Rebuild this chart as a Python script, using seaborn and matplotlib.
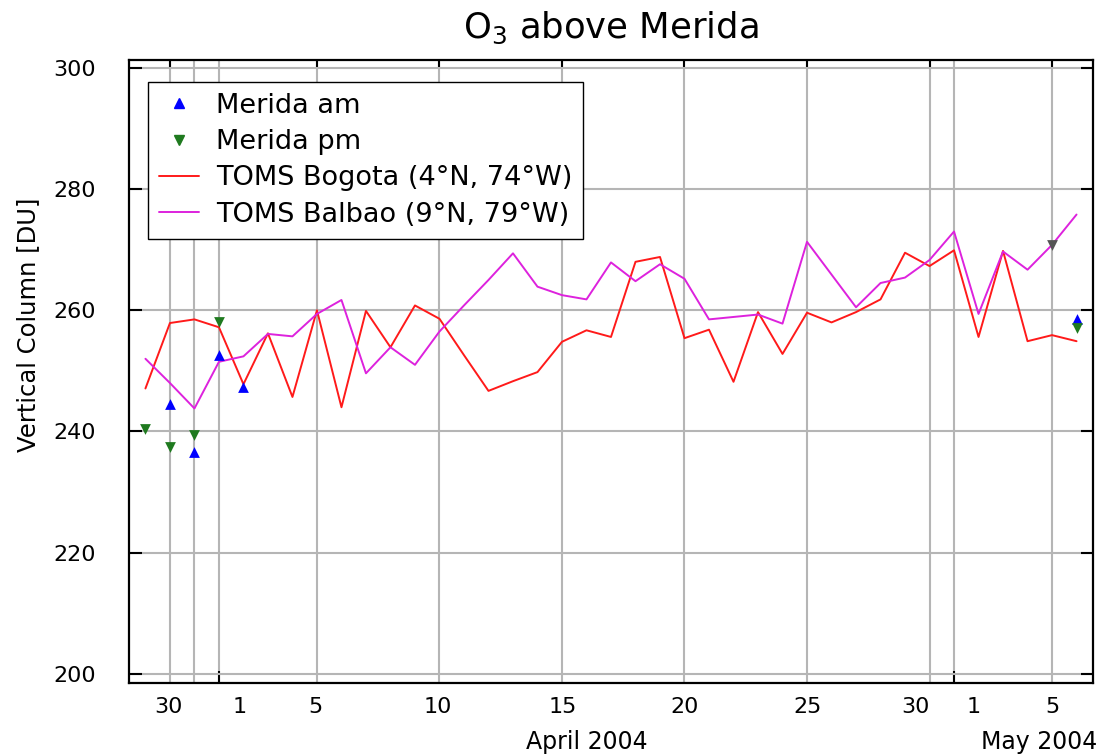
import numpy as np
import pandas as pd
import matplotlib
matplotlib.use("Agg")
import matplotlib.pyplot as plt
import matplotlib.transforms as mtransforms
from matplotlib.lines import Line2D
import seaborn as sns

# ---------------- data ----------------
toms_dates = pd.date_range("2004-03-29", "2004-05-06", freq="D")
bogota = [247.1, 257.9, 258.5, 257.2, 247.8, 256.2, 245.7, 260.0, 244.0, 259.9,
          253.9, 260.8, 258.6, 252.6, 246.7, 248.3, 249.8, 254.8, 256.7, 255.6,
          268.0, 268.8, 255.4, 256.8, 248.2, 259.7, 252.8, 259.6, 258.0, 259.7,
          261.8, 269.5, 267.3, 269.9, 255.6, 269.8, 254.9, 255.9, 254.9]
balbao = [252.0, 248.0, 243.8, 251.5, 252.4, 256.1, 255.7, 259.4, 261.7, 249.6,
          253.9, 251.0, 256.5, 260.8, 265.0, 269.4, 263.9, 262.5, 261.8, 267.9,
          264.8, 267.6, 265.2, 258.5, 258.9, 259.3, 257.8, 271.3, 265.9, 260.5,
          264.5, 265.4, 268.3, 273.0, 259.4, 269.7, 266.7, 270.8, 275.8]

am_dates = ["2004-03-30", "2004-03-31", "2004-04-01", "2004-04-02", "2004-05-06"]
am_vals = [244.5, 236.6, 252.6, 247.3, 258.5]
pm_dates = ["2004-03-29", "2004-03-30", "2004-03-31", "2004-04-01", "2004-05-06"]
pm_vals = [240.4, 237.5, 239.5, 258.1, 257.0]
extra_dates = ["2004-05-05"]
extra_vals = [270.8]

series_names = ["TOMS Bogota (4°N, 74°W)", "TOMS Balbao (9°N, 79°W)"]
legend_labels = ["Merida am", "Merida pm"] + series_names

grid_dates = ["2004-03-30", "2004-03-31", "2004-04-01", "2004-04-05", "2004-04-10",
              "2004-04-15", "2004-04-20", "2004-04-25", "2004-04-30", "2004-05-01",
              "2004-05-05"]
grid_labels = ["30", "", "1", "5", "10", "15", "20", "25", "30", "1", "5"]
label_shift_px = [-2, 0, 21, -2, -2, 1, 0, 1, -14, 20, 0]
month_starts = ["2004-04-01", "2004-05-01"]
month_labels = ["April 2004", "May 2004"]
y_ticks = [200, 220, 240, 260, 280, 300]

ref = pd.Timestamp("2004-04-01")


def to_day(d):
    return np.asarray((pd.to_datetime(d) - ref).days, dtype=float)


# ---------------- style ----------------
sns.set_style("white")
plt.rcParams["font.family"] = ["DejaVu Sans"]
plt.rcParams["mathtext.fontset"] = "dejavusans"
plt.rcParams["text.color"] = "black"
plt.rcParams["axes.labelcolor"] = "black"
plt.rcParams["xtick.color"] = "black"
plt.rcParams["ytick.color"] = "black"

RED = "#ff1a1a"
MAG = "#dd22dd"
BLUE = "#0000ff"
GREEN = "#1f7a1f"
GRAY = "#555555"

fig = plt.figure(figsize=(10.99, 7.56), dpi=100)
ax = fig.add_axes([0.1174, 0.0966, 0.8771, 0.8240])

tdays = to_day(toms_dates)
df = pd.DataFrame({
    "day": np.concatenate([tdays, tdays]),
    "value": bogota + balbao,
    "series": [series_names[0]] * len(bogota) + [series_names[1]] * len(balbao),
})
sns.lineplot(data=df, x="day", y="value", hue="series",
             palette={series_names[0]: RED, series_names[1]: MAG},
             linewidth=1.4, legend=False, sort=False, ax=ax, zorder=3)

sns.scatterplot(x=to_day(am_dates), y=am_vals, marker="^", color=BLUE, s=60,
                linewidth=0, ax=ax, zorder=4)
sns.scatterplot(x=to_day(pm_dates), y=pm_vals, marker="v", color=GREEN, s=60,
                linewidth=0, ax=ax, zorder=4)
sns.scatterplot(x=to_day(extra_dates), y=extra_vals, marker="v", color=GRAY, s=60,
                linewidth=0, ax=ax, zorder=4)

# ---------------- axes ----------------
ax.set_xlim(-3.67, 35.67)
ax.set_ylim(198.5, 301.3)
ax.set_xlabel("")
ax.set_ylabel("Vertical Column [DU]", fontsize=17.5, color="black")
ax.yaxis.set_label_coords(-0.092, 0.575)

ax.set_yticks(y_ticks)
ax.tick_params(axis="y", direction="in", length=9, width=1.5, left=True,
               right=True, labelsize=16, pad=24, color="black",
               labelcolor="black")

ax.set_xticks(to_day(grid_dates))
ax.set_xticklabels(grid_labels)
ax.tick_params(axis="x", which="major", direction="in", length=0, width=1.5,
               bottom=True, top=True, labelsize=16, pad=10, color="black",
               labelcolor="black")

for tick, d, dx in zip(ax.xaxis.get_major_ticks(), grid_dates, label_shift_px):
    ts = pd.Timestamp(d)
    if d in month_starts:
        tick.tick1line.set_markersize(9)
    if ts.day % 5 == 0:
        tick.tick2line.set_markersize(5)
    tick.label1.set_transform(tick.label1.get_transform() +
                              mtransforms.ScaledTranslation(dx / 100, 0, fig.dpi_scale_trans))

ax.grid(True, which="major", color="#b5b5b5", linewidth=1.5)
ax.set_axisbelow(True)

for sp in ax.spines.values():
    sp.set_color("black")
    sp.set_linewidth(1.6)
    sp.set_visible(True)

# month labels
ax.text(to_day("2004-04-16"), -0.095, month_labels[0], fontsize=17,
        ha="center", va="center", color="black",
        transform=mtransforms.blended_transform_factory(ax.transData, ax.transAxes))
ax.text(1.004, -0.095, month_labels[1], fontsize=17, ha="right", va="center",
        color="black", transform=ax.transAxes)

ax.set_title("O$_3$ above Merida", fontsize=25.5, pad=16, color="black")

handles = [
    Line2D([], [], ls="none", marker="^", color=BLUE, markersize=7),
    Line2D([], [], ls="none", marker="v", color=GREEN, markersize=7),
    Line2D([], [], color=RED, lw=1.4),
    Line2D([], [], color=MAG, lw=1.4),
]
leg = ax.legend(handles, legend_labels, loc="upper left",
                bbox_to_anchor=(0.0197, 0.9647), borderaxespad=0,
                fontsize=19.5, frameon=True, fancybox=False, edgecolor="black",
                framealpha=1, handlelength=1.5, handletextpad=0.6,
                labelspacing=0.38, borderpad=0.4)
leg.get_frame().set_linewidth(1.0)
for t in leg.get_texts():
    t.set_color("black")

fig.savefig("out.png", dpi=100)
